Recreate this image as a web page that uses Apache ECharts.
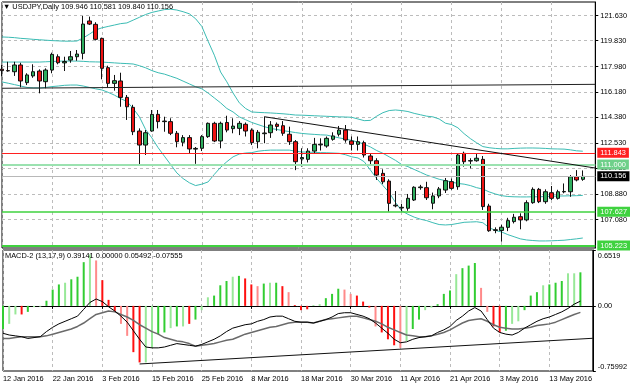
<!DOCTYPE html>
<html><head><meta charset="utf-8">
<script src="https://cdn.jsdelivr.net/npm/echarts@6/dist/echarts.min.js"></script>
<style>html,body{margin:0;padding:0;background:#fff}#c{width:630px;height:388px}</style>
</head><body><div id="c"></div><script>
const dates = ['12 Jan 2016','13 Jan 2016','14 Jan 2016','15 Jan 2016','18 Jan 2016','19 Jan 2016','20 Jan 2016','21 Jan 2016','22 Jan 2016','25 Jan 2016','26 Jan 2016','27 Jan 2016','28 Jan 2016','29 Jan 2016',
'1 Feb 2016','2 Feb 2016','3 Feb 2016','4 Feb 2016','5 Feb 2016','8 Feb 2016','9 Feb 2016','10 Feb 2016','11 Feb 2016','12 Feb 2016','15 Feb 2016','16 Feb 2016','17 Feb 2016','18 Feb 2016','19 Feb 2016','22 Feb 2016','23 Feb 2016','24 Feb 2016','25 Feb 2016','26 Feb 2016','29 Feb 2016',
'1 Mar 2016','2 Mar 2016','3 Mar 2016','4 Mar 2016','7 Mar 2016','8 Mar 2016','9 Mar 2016','10 Mar 2016','11 Mar 2016','14 Mar 2016','15 Mar 2016','16 Mar 2016','17 Mar 2016','18 Mar 2016','21 Mar 2016','22 Mar 2016','23 Mar 2016','24 Mar 2016','25 Mar 2016','28 Mar 2016','29 Mar 2016','30 Mar 2016','31 Mar 2016',
'1 Apr 2016','4 Apr 2016','5 Apr 2016','6 Apr 2016','7 Apr 2016','8 Apr 2016','11 Apr 2016','12 Apr 2016','13 Apr 2016','14 Apr 2016','15 Apr 2016','18 Apr 2016','19 Apr 2016','20 Apr 2016','21 Apr 2016','22 Apr 2016','25 Apr 2016','26 Apr 2016','27 Apr 2016','28 Apr 2016','29 Apr 2016',
'2 May 2016','3 May 2016','4 May 2016','5 May 2016','6 May 2016','9 May 2016','10 May 2016','11 May 2016','12 May 2016','13 May 2016','16 May 2016','17 May 2016','18 May 2016','19 May 2016','20 May 2016'];
const emptySlots = ['', ''];

const open  = [117.80,117.70,117.62,118.10,116.84,117.32,117.67,116.91,117.74,118.69,118.25,118.45,118.69,118.93,121.24,121.00,120.00,117.91,116.79,116.96,115.79,115.08,113.39,112.39,113.39,114.58,114.06,114.06,113.23,112.59,112.92,112.10,112.16,112.99,113.94,112.68,114.00,113.56,113.58,113.87,113.46,112.63,113.20,113.27,113.87,113.77,113.16,112.63,111.40,111.37,111.96,112.40,112.32,112.80,113.16,113.46,112.68,112.44,112.56,111.61,111.27,110.37,109.82,108.05,107.90,107.88,108.47,109.35,109.35,108.24,108.76,109.18,109.78,109.42,111.80,111.25,111.27,111.37,108.04,106.30,106.30,106.52,106.93,107.28,107.05,108.28,109.23,108.35,108.99,108.59,109.05,109.06,110.13,109.946];
const high  = [118.10,118.33,118.33,118.26,117.51,118.15,117.79,117.86,118.98,118.86,118.69,119.10,119.17,121.60,121.55,121.15,120.05,118.05,117.39,117.55,115.96,115.26,113.58,113.46,114.89,114.89,114.41,114.30,113.39,113.10,113.10,112.25,113.10,114.00,114.05,114.06,114.48,114.30,114.10,114.00,113.58,113.46,114.41,114.10,114.00,114.10,113.70,112.75,112.16,112.16,112.90,112.87,113.00,113.30,113.75,113.82,113.00,113.00,112.70,111.80,111.45,110.66,109.95,109.11,108.20,108.90,109.45,109.55,109.77,109.00,109.40,110.04,110.00,111.80,111.92,111.45,111.75,111.61,108.20,106.52,106.70,107.20,107.48,107.52,108.45,109.37,109.33,109.23,109.47,109.20,109.65,110.25,110.60,110.581];
const low   = [117.30,117.62,117.32,116.51,116.67,117.19,116.08,116.44,117.51,118.15,117.67,118.26,118.40,118.50,120.95,119.85,117.08,116.51,116.27,115.12,114.18,113.10,110.97,111.68,113.34,113.58,113.34,113.10,112.23,112.30,111.75,111.05,111.96,112.90,112.60,112.16,113.30,113.23,113.10,113.00,112.39,112.16,112.52,112.90,113.40,113.05,112.40,110.60,110.85,111.15,111.80,112.00,112.20,112.70,113.00,112.56,112.00,112.00,111.50,111.00,109.90,109.60,107.64,107.95,107.65,107.70,108.40,109.20,108.47,107.81,108.60,108.97,109.20,109.20,110.85,110.73,111.20,107.76,106.20,106.10,105.50,106.25,106.80,106.38,106.95,108.20,108.25,108.20,108.47,108.50,108.95,108.70,109.80,109.840];
const close = [117.70,117.68,118.10,116.96,117.39,117.62,116.96,117.74,118.86,118.26,118.35,118.69,118.88,121.02,121.02,119.93,117.86,116.79,116.98,115.79,115.12,113.34,112.39,113.27,114.58,114.06,114.10,113.23,112.63,112.92,112.11,112.15,112.99,113.94,112.68,113.94,113.46,113.74,113.94,113.39,112.56,113.30,113.25,113.82,113.72,113.23,112.63,111.20,111.50,111.96,112.44,112.45,112.87,113.04,113.46,112.75,112.44,112.63,111.68,111.27,110.25,109.77,108.23,108.10,107.95,108.59,109.38,109.40,108.63,108.76,109.26,109.85,109.30,111.68,111.20,111.28,111.45,108.00,106.28,106.35,106.53,107.00,107.24,107.05,108.28,109.23,108.35,109.06,108.59,109.06,109.08,110.13,109.90,110.156];

const bbUpper  = [120.10,120.08,120.05,120.00,119.97,119.93,119.90,119.87,119.84,119.82,119.80,119.80,119.81,120.03,120.30,120.60,120.75,120.85,120.95,121.05,121.10,121.30,121.50,121.70,121.85,121.95,122.05,122.08,122.02,121.90,121.75,121.40,120.85,119.80,118.80,117.60,116.90,116.10,115.40,115.00,114.75,114.72,114.70,114.68,114.65,114.62,114.58,114.53,114.52,114.50,114.48,114.46,114.44,114.42,114.40,114.39,114.37,114.25,114.13,114.15,114.45,114.70,114.85,114.89,114.85,114.78,114.65,114.55,114.45,114.40,114.25,113.95,113.85,113.62,113.20,112.85,112.55,112.28,112.20,112.15,112.12,112.12,112.15,112.17,112.18,112.18,112.17,112.15,112.12,112.11,112.10,112.05,111.98,111.95];
const bbMiddle = [118.31,118.31,118.31,118.31,118.31,118.31,118.31,118.33,118.35,118.37,118.38,118.38,118.38,118.36,118.33,118.32,118.31,118.28,118.25,118.22,118.20,118.17,118.05,117.90,117.70,117.55,117.45,117.30,117.15,116.95,116.75,116.55,116.40,116.10,115.75,115.40,115.00,114.75,114.40,114.20,114.00,113.85,113.70,113.58,113.50,113.42,113.35,113.28,113.22,113.18,113.15,113.12,113.10,113.00,112.90,112.82,112.72,112.60,112.45,112.25,112.00,111.80,111.55,111.30,111.00,110.85,110.65,110.45,110.25,110.10,109.95,109.85,109.75,109.65,109.60,109.50,109.35,109.25,109.05,108.90,108.78,108.72,108.70,108.69,108.69,108.70,108.70,108.72,108.74,108.75,108.76,108.77,108.78,108.80];
const bbLower  = [116.89,116.80,116.70,116.60,116.50,116.47,116.46,116.50,116.56,116.60,116.65,116.67,116.67,116.60,116.50,116.40,116.32,116.15,115.95,115.70,115.50,115.00,114.40,113.50,112.90,112.20,111.60,111.00,110.40,110.00,109.70,109.50,109.60,109.76,110.30,110.80,111.20,111.55,111.75,111.82,111.85,111.95,112.00,112.03,112.03,112.03,112.03,111.95,111.90,111.88,111.87,111.85,111.84,111.82,111.80,111.70,111.55,111.47,111.20,110.60,110.00,109.50,109.00,108.30,107.70,107.45,107.25,107.10,107.00,106.85,106.72,106.69,106.72,106.80,106.88,106.90,106.92,106.85,106.50,106.30,106.19,106.00,105.85,105.70,105.62,105.58,105.55,105.55,105.56,105.58,105.60,105.65,105.70,105.76];

const macdHist = [-0.27,-0.21,-0.10,-0.10,-0.07,-0.015,-0.01,0.06,0.19,0.25,0.27,0.31,0.34,0.51,0.60,0.53,0.30,0.07,-0.07,-0.21,-0.35,-0.54,-0.66,-0.66,-0.49,-0.33,-0.31,-0.26,-0.24,-0.24,-0.21,-0.16,-0.05,0.10,0.12,0.24,0.29,0.34,0.35,0.32,0.25,0.23,0.26,0.27,0.27,0.23,0.16,0.01,-0.05,-0.04,0.01,0.02,0.09,0.14,0.20,0.19,0.14,0.12,0.05,-0.02,-0.24,-0.31,-0.39,-0.46,-0.49,-0.41,-0.27,-0.16,-0.05,-0.02,0.02,0.14,0.18,0.37,0.44,0.47,0.50,0.21,-0.07,-0.24,-0.31,-0.29,-0.21,-0.18,-0.05,0.12,0.16,0.24,0.25,0.27,0.29,0.38,0.38,0.39141];
const histTone = 'GggRGggGGGgGGGgrRRRrrRRggGGgGgRGggGGGgGRRrGgGRrRRRggGGGrrRRRrRRRrgGGggGGGgGGGrrRRGggGGGgGGGggG';
const macdMain = [-0.32,-0.34,-0.35,-0.36,-0.38,-0.37,-0.36,-0.30,-0.25,-0.21,-0.18,-0.15,-0.12,-0.04,0.04,0.08,0.05,-0.01,-0.06,-0.12,-0.19,-0.29,-0.39,-0.48,-0.49,-0.49,-0.48,-0.46,-0.44,-0.45,-0.46,-0.47,-0.45,-0.42,-0.39,-0.35,-0.30,-0.26,-0.24,-0.22,-0.21,-0.18,-0.16,-0.13,-0.12,-0.12,-0.15,-0.18,-0.19,-0.19,-0.20,-0.18,-0.16,-0.13,-0.09,-0.08,-0.08,-0.10,-0.12,-0.15,-0.20,-0.26,-0.32,-0.39,-0.43,-0.42,-0.39,-0.37,-0.36,-0.35,-0.31,-0.28,-0.24,-0.17,-0.12,-0.06,-0.02,-0.06,-0.16,-0.26,-0.31,-0.33,-0.34,-0.31,-0.26,-0.22,-0.18,-0.15,-0.13,-0.10,-0.07,-0.03,0.02,0.05492];
const macdSignal = [-0.38,-0.38,-0.37,-0.36,-0.36,-0.36,-0.36,-0.35,-0.33,-0.31,-0.29,-0.27,-0.24,-0.20,-0.15,-0.10,-0.08,-0.06,-0.07,-0.10,-0.13,-0.17,-0.22,-0.26,-0.30,-0.33,-0.37,-0.39,-0.41,-0.42,-0.44,-0.47,-0.46,-0.45,-0.44,-0.42,-0.40,-0.39,-0.36,-0.33,-0.31,-0.29,-0.27,-0.25,-0.24,-0.22,-0.20,-0.19,-0.19,-0.19,-0.20,-0.18,-0.16,-0.15,-0.14,-0.13,-0.12,-0.12,-0.14,-0.16,-0.18,-0.21,-0.25,-0.28,-0.31,-0.34,-0.35,-0.36,-0.36,-0.35,-0.33,-0.31,-0.28,-0.24,-0.20,-0.17,-0.16,-0.15,-0.18,-0.22,-0.25,-0.26,-0.27,-0.27,-0.26,-0.25,-0.23,-0.22,-0.21,-0.19,-0.16,-0.13,-0.10,-0.07555];

const priceTicks = [107.08,108.88,110.73,112.53,114.38,116.18,117.98,119.83,121.63];
const priceRange = [105.047, 122.593];
const macdTicks = [-0.75992, 0, 0.6519];
const macdTickText = ['-0.75992','0.00','0.6519'];
const levelValues = [111.843, 111.000, 110.156, 107.627, 105.223];
const trendMain = [[42,114.41],[95,110.75]];
const trendFlat = [[0,116.44],[95,116.72]];
const trendMacd = [[22,-0.678],[95,-0.378]];
const headerMain = '\u25BC USDJPY,Daily 109.946 110.581 109.840 110.156';
const headerMacd = 'MACD-2 (13,17,9) 0.39141 0.00000 0.05492 -0.07555';

const FONT = '"Liberation Sans", Arial, sans-serif';
const FS = 7.4;
const cats = dates.concat(emptySlots);
const candles = open.map((o,i)=>[o, close[i], low[i], high[i]]);
const toneColor = {G:'#32cd32', g:'#98e898', R:'#ff1010', r:'#ff8a8a'};
const levelStyle = [
  {line:'#ff2020', w:1, bg:'#ff2020'},
  {line:'#9be2b0', w:2, bg:'#6fd08a'},
  {line:'#b8b8b8', w:1, bg:'#000000'},
  {line:'#3fd23f', w:1.5, bg:'#3fd23f'},
  {line:'#3fd23f', w:2, bg:'#3fd23f'}
];
const gridLine = {show:true, lineStyle:{color:'#bcbcbc', type:[3,3], width:1}};

const chart = echarts.init(document.getElementById('c'), null, {renderer:'canvas'});
chart.setOption({
  animation:false,
  backgroundColor:'#fff',
  textStyle:{fontFamily:FONT},
  title:[
    {text:headerMain, left:3, top:3, padding:0, textStyle:{fontSize:FS, fontWeight:'normal', color:'#000', fontFamily:FONT}},
    {text:headerMacd, left:5, top:252, padding:0, textStyle:{fontSize:FS, fontWeight:'normal', color:'#000', fontFamily:FONT}}
  ],
  grid:[
    {left:2, right:34, top:2, height:246, show:true, borderColor:'#000', borderWidth:1},
    {left:2, right:34, top:250, height:121, show:true, borderColor:'#000', borderWidth:1}
  ],
  xAxis:[
    {type:'category', gridIndex:0, data:cats, boundaryGap:false,
     axisLine:{show:false}, axisTick:{show:false}, axisLabel:{show:false},
     splitLine:Object.assign({interval:7}, gridLine)},
    {type:'category', gridIndex:1, data:cats, boundaryGap:false,
     axisLine:{show:true, lineStyle:{color:'#000'}},
     axisTick:{show:true, interval:7, length:3, lineStyle:{color:'#000'}},
     axisLabel:{show:true, interval:7, align:'left', margin:4, fontSize:FS, color:'#000', fontFamily:FONT},
     splitLine:Object.assign({interval:7}, gridLine)}
  ],
  yAxis:[
    {type:'value', gridIndex:0, position:'right', min:priceRange[0], max:priceRange[1], scale:true,
     axisLine:{show:true, lineStyle:{color:'#000'}},
     axisTick:{show:true, length:3, customValues:priceTicks, lineStyle:{color:'#000'}},
     axisLabel:{show:true, customValues:priceTicks, margin:5, fontSize:FS, color:'#000', fontFamily:FONT,
       formatter:v=>v.toFixed(3)},
     splitLine:gridLine},
    {type:'value', gridIndex:1, position:'right', min:macdTicks[0], max:macdTicks[2],
     axisLine:{show:true, lineStyle:{color:'#000'}},
     axisTick:{show:true, length:3, customValues:macdTicks, lineStyle:{color:'#000'}},
     axisLabel:{show:true, customValues:macdTicks, margin:5, fontSize:FS, color:'#000', fontFamily:FONT,
       formatter:v=>{const k=macdTicks.findIndex(t=>Math.abs(t-v)<1e-6); const s=macdTickText[k];
         return k===2?'{t|'+s+'}':(k===0?'{b|'+s+'}':s);},
       rich:{t:{fontSize:FS, fontFamily:FONT, color:'#000', padding:[12,0,0,0]}, b:{fontSize:FS, fontFamily:FONT, color:'#000', padding:[0,0,9,0]}}},
     splitLine:{show:true, showMinLine:false, showMaxLine:false, lineStyle:{color:'#bcbcbc', type:[3,3]}}}
  ],
  series:[
    {type:'line', xAxisIndex:0, yAxisIndex:0, data:bbUpper, symbol:'none', lineStyle:{color:'#3cbcb4', width:1}, z:2},
    {type:'line', xAxisIndex:0, yAxisIndex:0, data:bbMiddle, symbol:'none', lineStyle:{color:'#3cbcb4', width:1}, z:2},
    {type:'line', xAxisIndex:0, yAxisIndex:0, data:bbLower, symbol:'none', lineStyle:{color:'#3cbcb4', width:1}, z:2},
    {type:'candlestick', xAxisIndex:0, yAxisIndex:0, data:candles, barWidth:4, z:3,
     itemStyle:{color:'#2eae5e', color0:'#ee1111', borderColor:'#111', borderColor0:'#111', borderWidth:1},
     markLine:{symbol:'none', silent:true, animation:false, z:4,
       data:levelValues.map((v,k)=>({yAxis:v,
         lineStyle:{color:levelStyle[k].line, width:levelStyle[k].w, type:'solid'},
         label:{show:true, position:'end', distance:2, formatter:v.toFixed(3), color:'#fff', backgroundColor:levelStyle[k].bg,
           padding:[2,3,1,3], fontSize:FS, fontFamily:FONT}}))
       .concat([
         [{coord:trendMain[0], lineStyle:{color:'#111', width:1, type:'solid'}, label:{show:false}}, {coord:trendMain[1]}],
         [{coord:trendFlat[0], lineStyle:{color:'#222', width:1, type:'solid'}, label:{show:false}}, {coord:trendFlat[1]}]
       ])}},
    {type:'bar', xAxisIndex:1, yAxisIndex:1, barWidth:2,
     data:macdHist.map((v,i)=>({value:v, itemStyle:{color:toneColor[histTone[i]]}}))},
    {type:'line', xAxisIndex:1, yAxisIndex:1, data:macdSignal, symbol:'none', lineStyle:{color:'#6a6a6a', width:1.5},
     markLine:{symbol:'none', silent:true, animation:false,
       data:[[{coord:trendMacd[0], lineStyle:{color:'#111', width:1, type:'solid'}, label:{show:false}}, {coord:trendMacd[1]}]]}},
    {type:'line', xAxisIndex:1, yAxisIndex:1, data:macdMain, symbol:'none', lineStyle:{color:'#000', width:1}}
  ]
});
</script></body></html>
